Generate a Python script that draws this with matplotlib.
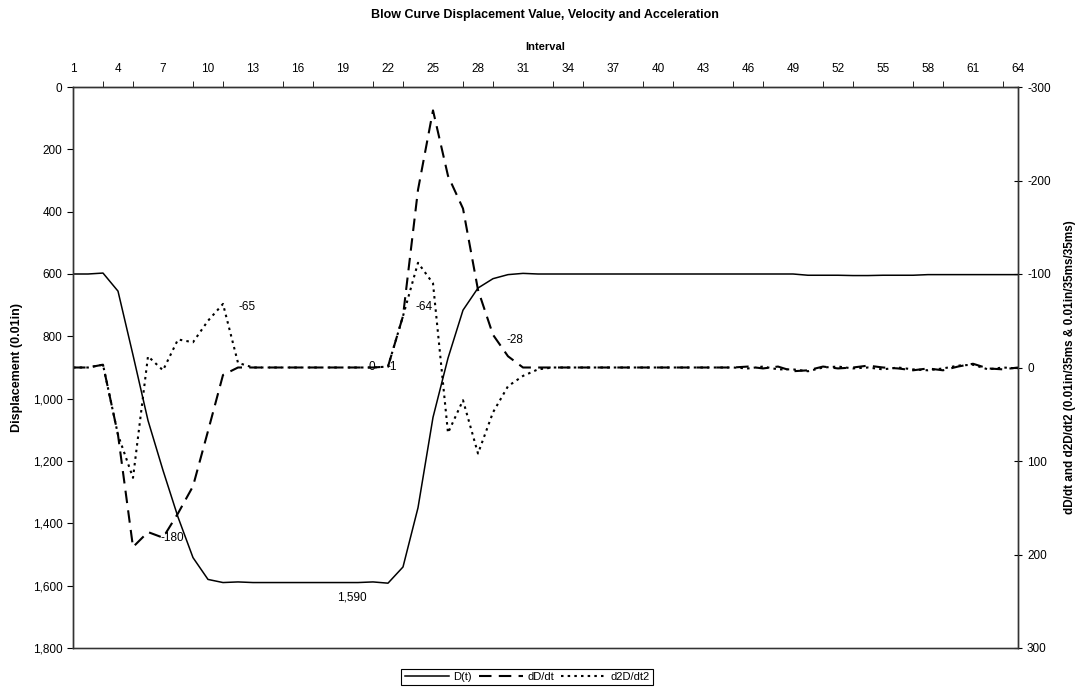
import numpy as np
import matplotlib.pyplot as plt
from matplotlib.ticker import FuncFormatter

plt.rcParams['font.family'] = ['Liberation Sans', 'DejaVu Sans']
plt.rcParams['axes.unicode_minus'] = False

# Data
interval = list(range(1, 65))

disp = [600, 600, 597, 655, 860, 1070, 1230, 1380, 1510, 1580,
        1590, 1588, 1590, 1590, 1590, 1590, 1590, 1590, 1590, 1590,
        1588, 1592, 1540, 1350, 1060, 870, 716, 645, 615, 602,
        598, 600, 600, 600, 600, 600, 600, 600, 600, 600,
        600, 600, 600, 600, 600, 600, 600, 600, 600, 604,
        604, 604, 605, 605, 604, 604, 604, 602, 602, 602,
        602, 602, 602, 602]

vel = [0, 0, -3, 72, 192, 176, 182, 156, 127, 68,
       8, 0, 0, 0, 0, 0, 0, 0, 0, 0,
       0, -1, -55, -190, -275, -205, -170, -83, -35, -12,
       0, 0, 0, 0, 0, 0, 0, 0, 0, 0,
       0, 0, 0, 0, 0, -1, 1, -1, 4, 3,
       -1, 1, 0, -2, 0, 1, 3, 1, 3, -1,
       -4, 1, 2, 0]

acc = [0, 0, -3, 72, 118, -12, 3, -30, -27, -50,
       -68, -5, 0, 0, 0, 0, 0, 0, 0, 0,
       0, -1, -55, -112, -90, 70, 35, 92, 48, 20,
       9, 2, 0, 0, 0, 0, 0, 0, 0, 0,
       0, 0, 0, 0, 0, 1, -1, 2, 2, 4,
       0, -1, 1, 0, 2, 0, 2, 3, 1, -2,
       -3, 2, 0, 1]

# (series, interval, text, dx px, dy px)
point_labels = [("acc", 11, "-65", 24, -3),
                ("disp", 20, "1,590", -6, -15),
                ("vel", 7, "-180", 9, 0),
                ("acc", 23, "-64", 21, 9),
                ("vel", 29, "-28", 22, -5),
                ("vel", 21, "0", -1, 0),
                ("vel", 22, "-1", 4, 0)]

fig = plt.figure(figsize=(10.8, 6.96), dpi=100)
ax = fig.add_axes([73/1080, 1 - 648/696, 945/1080, 561/696])
ax2 = ax.twinx()

l1, = ax.plot(interval, disp, color='black', lw=1.1, label='D(t)')
l2, = ax2.plot(interval, vel, color='black', lw=1.5, dashes=(6, 3.5), label='dD/dt')
l3, = ax2.plot(interval, acc, color='black', lw=1.5, dashes=(1.2, 2.0), label='d2D/dt2')

ax.set_xlim(1, 64)
ax.set_ylim(1800, 0)
ax2.set_ylim(300, -300)

ax.set_yticks(np.arange(0, 1801, 200))
ax.yaxis.set_major_formatter(FuncFormatter(lambda v, p: f"{int(v):,}"))
ax2.set_yticks(np.arange(-300, 301, 100))

ax.xaxis.tick_top()
ax.xaxis.set_label_position('top')
ax.set_xticks(range(1, 65, 3))
ax.set_xticks(range(1, 64, 2), minor=True)
ax.tick_params(axis='x', which='major', length=0, pad=8.7, labelsize=8.5)
ax.tick_params(axis='x', which='minor', length=4, direction='out')
ax.tick_params(axis='y', length=4, direction='out', labelsize=8.5)
ax2.tick_params(axis='y', length=6, direction='inout', labelsize=8.5)

for a in (ax, ax2):
    for s in a.spines.values():
        s.set_linewidth(1.0)
        s.set_color('#333333')
ax.spines['bottom'].set_color('#777777')

ax.set_xlabel('Interval', fontsize=8, fontweight='bold', labelpad=9.5)
ax.set_ylabel('Displacement (0.01in)', fontsize=9, fontweight='bold')
ax.yaxis.set_label_coords(-50/945, 0.5)
ax2.set_ylabel('dD/dt and d2D/dt2 (0.01in/35ms & 0.01in/35ms/35ms)',
               fontsize=8.5, fontweight='bold')
ax2.yaxis.set_label_coords(1 + 46/945, 0.5)
fig.suptitle('Blow Curve Displacement Value, Velocity and Acceleration',
             x=545/1080, y=1 - 15/696, va='center', fontsize=9, fontweight='bold')

series = {"disp": (ax, disp), "vel": (ax2, vel), "acc": (ax2, acc)}
for name, i, txt, dx, dy in point_labels:
    a, vals = series[name]
    a.annotate(txt, xy=(i, vals[i - 1]), xytext=(dx, dy), textcoords='offset pixels',
               ha='center', va='center', fontsize=8.5)

leg = fig.legend(handles=[l1, l2, l3], loc='center', ncol=3,
                 bbox_to_anchor=(527/1080, 1 - 677/696), fontsize=8,
                 frameon=True, fancybox=False, edgecolor='black', framealpha=1,
                 handlelength=4, handletextpad=0.4, columnspacing=0.6,
                 borderpad=0.3)
leg.get_frame().set_linewidth(0.8)

fig.savefig('out.png', dpi=100)
